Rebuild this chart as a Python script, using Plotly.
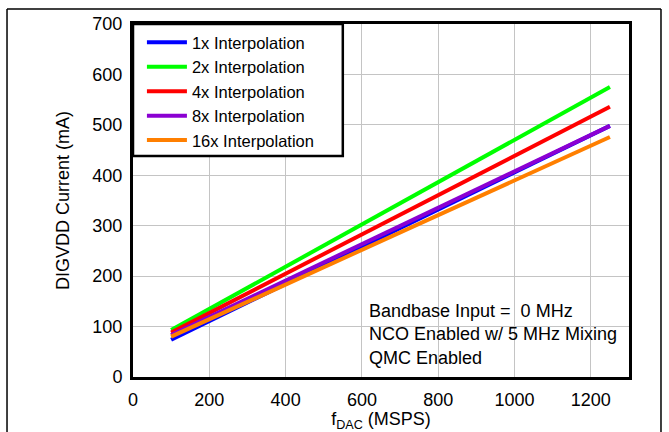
import plotly.graph_objects as go

fdac = [100, 400, 700, 1000, 1250]
series_names = ["1x Interpolation", "2x Interpolation", "4x Interpolation",
                "8x Interpolation", "16x Interpolation"]
cur_1x = [74, 185, 295, 406, 498]
cur_2x = [93, 219, 344, 470, 575]
cur_4x = [88, 205, 322, 439, 536]
cur_8x = [83, 191, 300, 408, 498]
cur_16x = [80, 183, 286, 390, 476]
colors = ["#0000FF", "#00FF00", "#FF0000", "#8B00D2", "#FF7F00"]
x_ticks = [0, 200, 400, 600, 800, 1000, 1200]
y_ticks = [0, 100, 200, 300, 400, 500, 600, 700]
note_lines = ["Bandbase Input =  0 MHz", "NCO Enabled w/ 5 MHz Mixing", "QMC Enabled"]

FONT = "Liberation Sans, Arial, sans-serif"
FS = 18

fig = go.Figure()
for name, ys, c in zip(series_names, [cur_1x, cur_2x, cur_4x, cur_8x, cur_16x], colors):
    fig.add_trace(go.Scatter(x=fdac, y=ys, mode="lines", name=name,
                             line=dict(color=c, width=4)))

fig.update_layout(
    width=669, height=432,
    margin=dict(l=133, r=40, t=24, b=55, autoexpand=False),
    paper_bgcolor="white", plot_bgcolor="white",
    font=dict(family=FONT, size=FS, color="#000"),
    showlegend=True,
    legend=dict(x=0.018, y=0.997, xanchor="left", yanchor="top",
                borderwidth=0, bgcolor="rgba(0,0,0,0)",
                font=dict(size=16.5, family=FONT, color="#000"),
                itemwidth=40, tracegroupgap=0),
    xaxis=dict(range=[0, 1300], tickvals=x_ticks, ticktext=[str(v) for v in x_ticks],
               showgrid=True, gridcolor="#c4c4c4", gridwidth=1,
               showline=True, linecolor="black", linewidth=3, mirror=True,
               ticks="", zeroline=False, fixedrange=True, ticklabelstandoff=4,
               automargin=False,
               tickfont=dict(size=FS, family=FONT, color="#000"),
               title=dict(text="f<sub>DAC</sub> (MSPS)", standoff=10,
                          font=dict(size=FS, family=FONT, color="#000"))),
    yaxis=dict(range=[0, 700], tickvals=y_ticks, ticktext=[str(v) for v in y_ticks],
               showgrid=True, gridcolor="#c4c4c4", gridwidth=1,
               showline=True, linecolor="black", linewidth=3, mirror=True,
               ticks="", zeroline=False, fixedrange=True, ticklabelstandoff=4,
               automargin=False,
               tickfont=dict(size=FS, family=FONT, color="#000"),
               title=dict(text="DIGVDD Current (mA)", standoff=19,
                          font=dict(size=FS, family=FONT, color="#000"))),
)

# legend frame
fig.add_shape(type="rect", xref="paper", yref="paper", x0=0, x1=0.423, y0=0.626, y1=1.0,
              line=dict(color="black", width=2.5), fillcolor="white", layer="above")

# outer figure frame
fig.add_shape(type="line", xref="paper", yref="paper", x0=-0.254, x1=-0.254, y0=1.0425, y1=-0.2,
              line=dict(color="black", width=1.5))
fig.add_shape(type="line", xref="paper", yref="paper", x0=1.0645, x1=1.0645, y0=1.0425, y1=-0.2,
              line=dict(color="black", width=1.5))
fig.add_shape(type="line", xref="paper", yref="paper", x0=-0.254, x1=1.0645, y0=1.0425, y1=1.0425,
              line=dict(color="black", width=1.5))

fig.add_annotation(x=0.472, y=0.12, xref="paper", yref="paper", xanchor="left", yanchor="middle",
                   align="left", showarrow=False,
                   text="<br>".join(note_lines),
                   font=dict(size=FS, family=FONT, color="#000"))

fig.write_html("out.html", config={"displayModeBar": False},
               post_script="document.body.style.margin='0';")
